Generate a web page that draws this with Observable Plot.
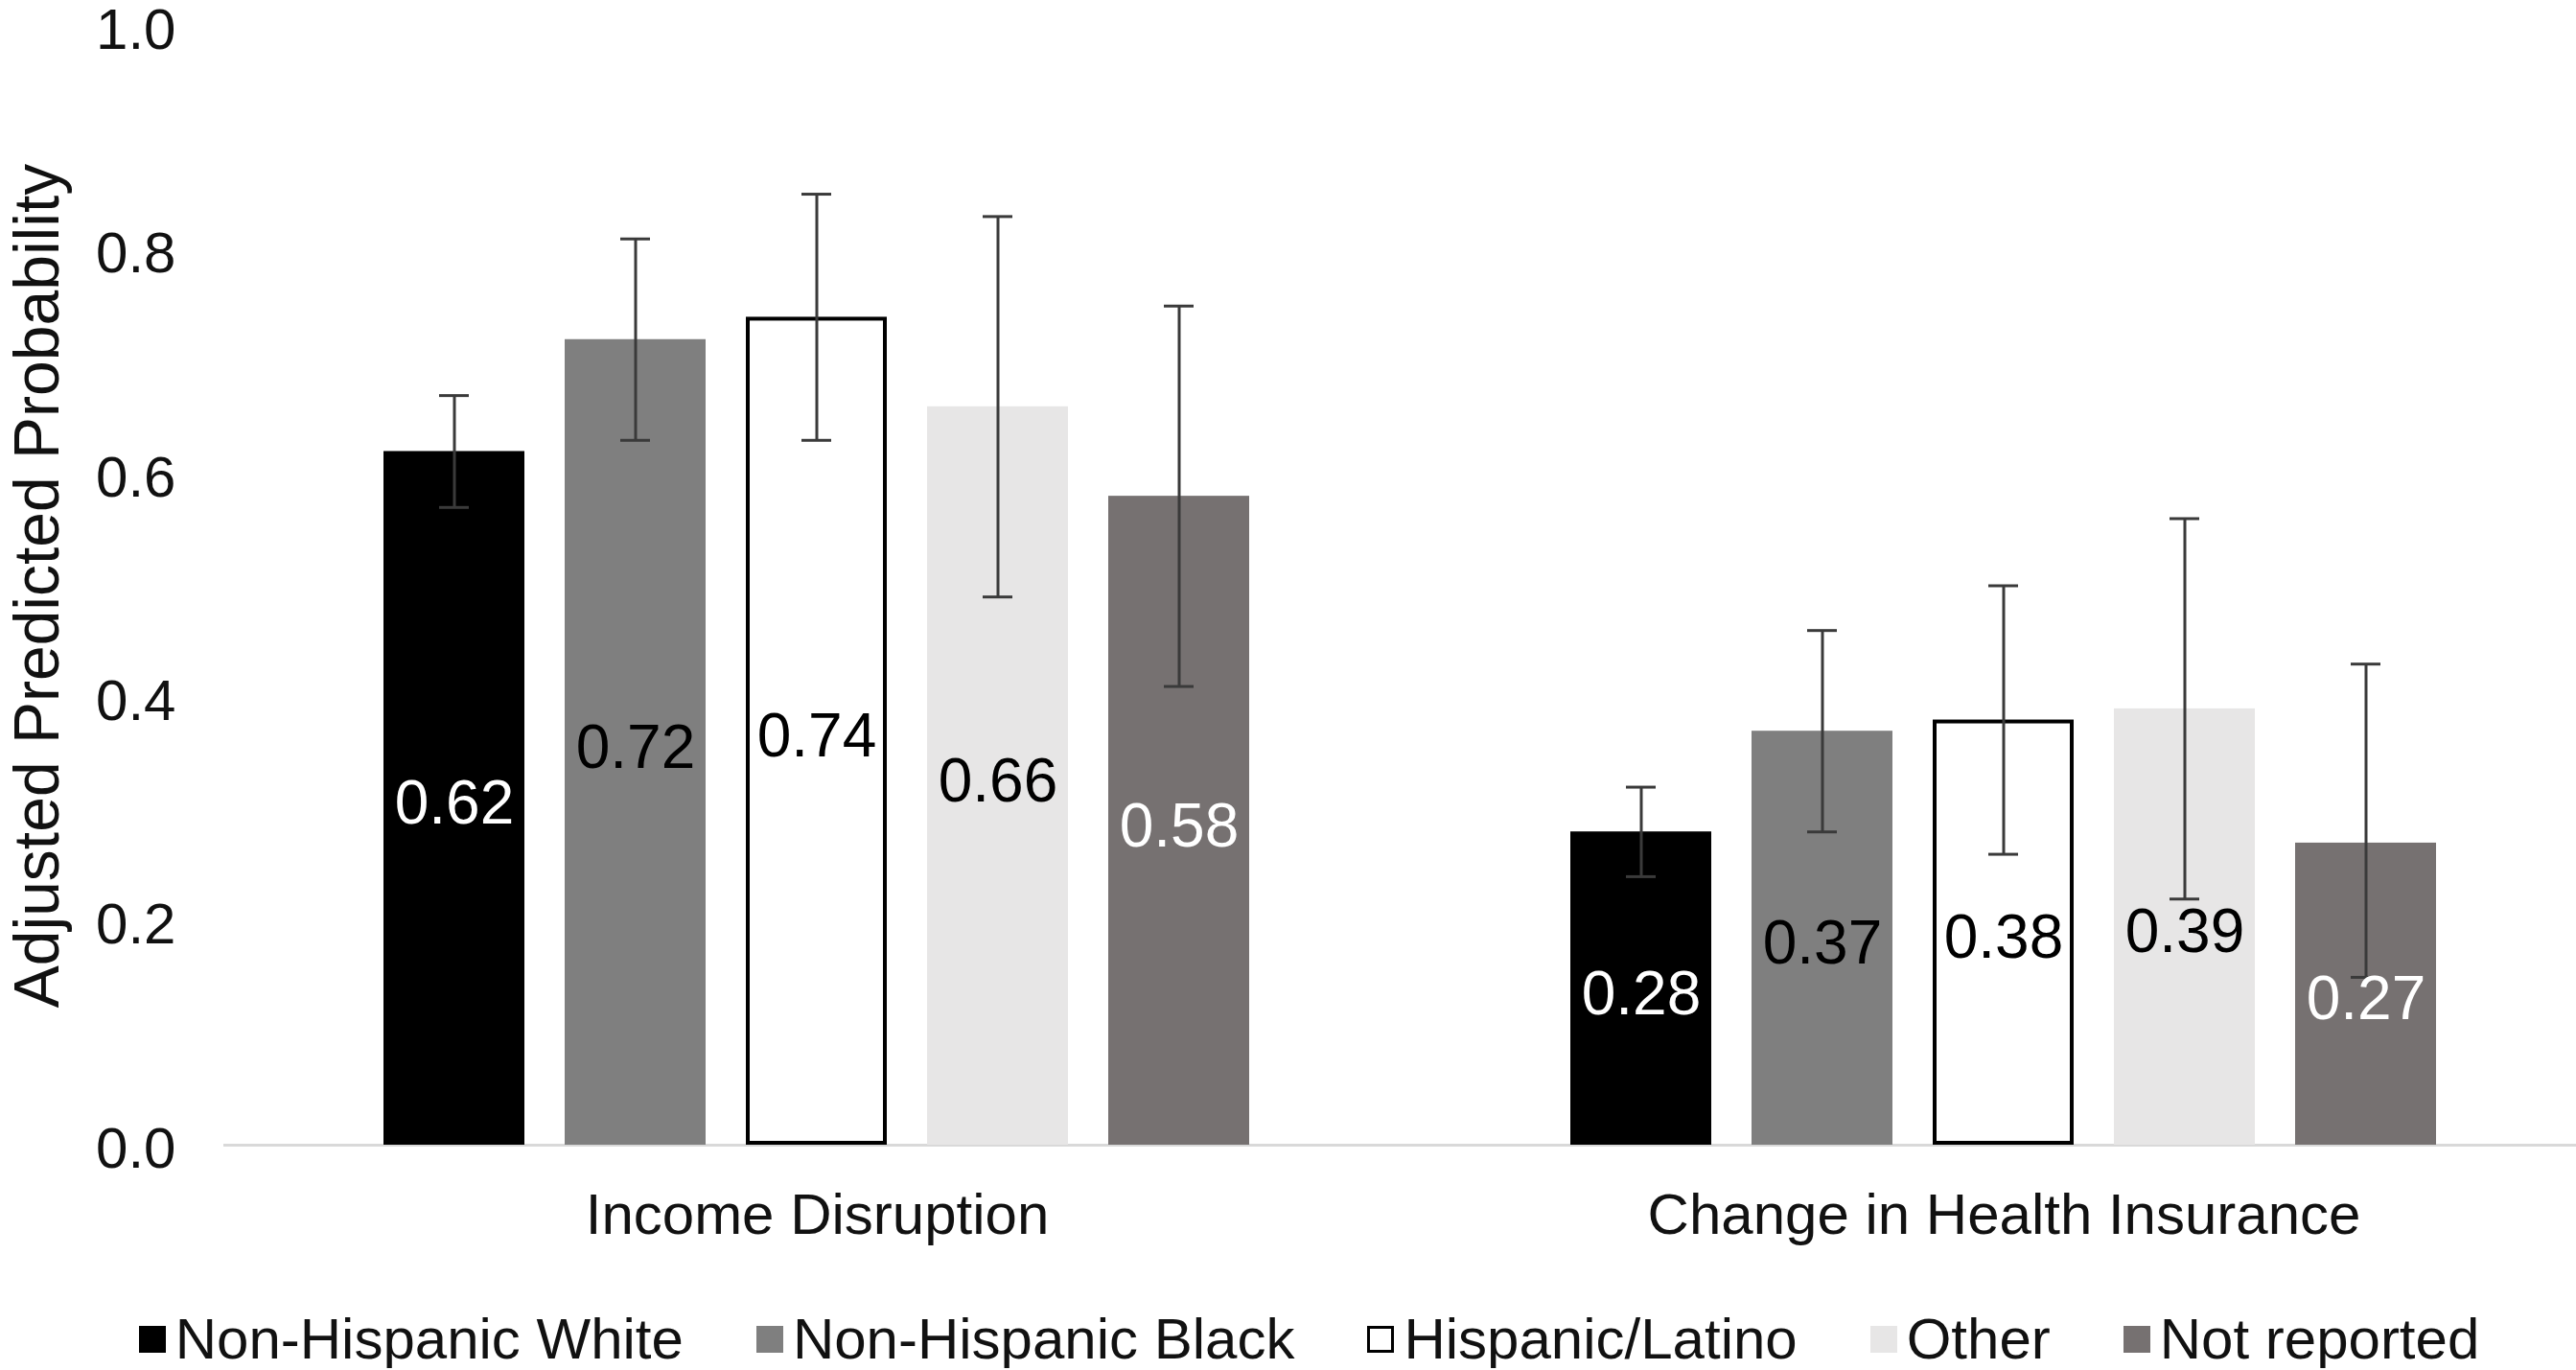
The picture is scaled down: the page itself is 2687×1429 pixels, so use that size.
<!DOCTYPE html>
<html>
<head>
<meta charset="utf-8">
<script src="https://cdn.jsdelivr.net/npm/d3@7"></script>
<script src="https://cdn.jsdelivr.net/npm/@observablehq/plot@0.6"></script>
<style>
  html, body { margin: 0; padding: 0; background: #ffffff; }
  body { width: 2687px; font-family: "Liberation Sans", Arial, sans-serif; }
  #chart svg { display: block; overflow: visible; }
  #legend {
    display: flex; justify-content: center; align-items: center;
    margin-top: 37px; padding-left: 44px;
    font-size: 60px; line-height: 60px; color: #111111;
  }
  .item { display: flex; align-items: center; margin: 0 38px; white-space: nowrap; }
  .sw { width: 28px; height: 28px; margin-right: 10px; box-sizing: border-box; }
</style>
</head>
<body>
<div id="chart"></div>
<div id="legend"></div>
<script>
// ---- data ----
const outcomes = ["Income Disruption", "Change in Health Insurance"];
const groups = ["Non-Hispanic White", "Non-Hispanic Black", "Hispanic/Latino", "Other", "Not reported"];

const incomeValues = [0.62, 0.72, 0.74, 0.66, 0.58];
const incomeLower  = [0.57, 0.63, 0.63, 0.49, 0.41];
const incomeUpper  = [0.67, 0.81, 0.85, 0.83, 0.75];

const insuranceValues = [0.28, 0.37, 0.38, 0.39, 0.27];
const insuranceLower  = [0.24, 0.28, 0.26, 0.22, 0.15];
const insuranceUpper  = [0.32, 0.46, 0.50, 0.56, 0.43];

const yTicks = [0, 0.2, 0.4, 0.6, 0.8, 1.0];

const fills       = ["#000000", "#7f7f7f", "#ffffff", "#e7e6e6", "#767171"];
const outlines    = ["none", "none", "#000000", "none", "none"];
const labelColors = ["#ffffff", "#000000", "#000000", "#000000", "#ffffff"];

// ---- table built from the arrays ----
const series = [
  {outcome: outcomes[0], values: incomeValues, lower: incomeLower, upper: incomeUpper},
  {outcome: outcomes[1], values: insuranceValues, lower: insuranceLower, upper: insuranceUpper}
];
const rows = series.flatMap(s => groups.map((g, i) => ({
  outcome: s.outcome, group: g, value: s.values[i], lo: s.lower[i], hi: s.upper[i], idx: i
})));

const font = '"Liberation Sans", Arial, sans-serif';

const chart = Plot.plot({
  width: 2687,
  height: 1330,
  marginLeft: 233,
  marginRight: 0,
  marginTop: 27,
  marginBottom: 136,
  style: {fontFamily: font, fontSize: "60px", color: "#111111", background: "#ffffff", overflow: "visible"},
  fx: {domain: outcomes, padding: 0, range: [233, 2709], label: null},
  x: {domain: groups, paddingInner: 0.22, paddingOuter: 0.872, axis: null},
  y: {domain: [0, 1]},
  color: {domain: groups, range: fills},
  marks: [
    Plot.ruleY([0], {stroke: "#d9d9d9", strokeWidth: 3}),
    Plot.barY(rows, {fx: "outcome", x: "group", y: "value", fill: "group"}),
    Plot.barY(rows.filter(d => outlines[d.idx] !== "none"), {
      fx: "outcome", x: "group", y: "value", fill: "none",
      stroke: d => outlines[d.idx], strokeWidth: 4, inset: 2
    }),
    Plot.ruleX(rows, {fx: "outcome", x: "group", y1: "lo", y2: "hi", stroke: "#3a3a3a", strokeWidth: 3}),
    Plot.tickY(rows, {fx: "outcome", x: "group", y: "lo", stroke: "#3a3a3a", strokeWidth: 3, inset: 58}),
    Plot.tickY(rows, {fx: "outcome", x: "group", y: "hi", stroke: "#3a3a3a", strokeWidth: 3, inset: 58}),
    Plot.text(rows, {
      fx: "outcome", x: "group", y: d => d.value / 2,
      text: d => d.value.toFixed(2), fill: d => labelColors[d.idx],
      fontSize: 64, fontFamily: font, dy: 6
    }),
    Plot.axisY({
      ticks: yTicks, tickFormat: d3.format(".1f"), tickSize: 0, tickPadding: 50,
      fontSize: 60, label: null, dy: 4
    }),
    Plot.axisY({
      ticks: [], tickSize: 0, fontSize: 66,
      label: "Adjusted Predicted Probability", labelAnchor: "center",
      labelArrow: "none", labelOffset: 219
    }),
    Plot.axisFx({anchor: "bottom", tickSize: 0, tickPadding: 50, label: null, fontSize: 60})
  ]
});
document.getElementById("chart").appendChild(chart);

// ---- legend ----
const legend = document.getElementById("legend");
groups.forEach((g, i) => {
  const item = document.createElement("div");
  item.className = "item";
  const sw = document.createElement("div");
  sw.className = "sw";
  sw.style.background = fills[i];
  if (outlines[i] !== "none") sw.style.border = `3px solid ${outlines[i]}`;
  const lab = document.createElement("span");
  lab.textContent = g;
  item.appendChild(sw);
  item.appendChild(lab);
  legend.appendChild(item);
});
</script>
</body>
</html>
